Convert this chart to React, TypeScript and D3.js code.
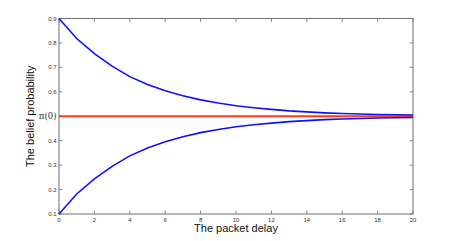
import React, { useEffect, useRef } from 'react';
import * as d3 from 'd3';

// packet delay (x) and belief probabilities
const delays = [0, 1, 2, 3, 4, 5, 6, 7, 8, 9, 10, 11, 12, 13, 14, 15, 16, 17, 18, 19, 20];
const upperBelief = [0.9, 0.818, 0.756, 0.705, 0.662, 0.63, 0.604, 0.584, 0.567, 0.554, 0.543, 0.535, 0.528, 0.522, 0.518, 0.514, 0.511, 0.509, 0.507, 0.506, 0.505];
const lowerBelief = [0.1, 0.182, 0.244, 0.295, 0.338, 0.37, 0.396, 0.416, 0.433, 0.446, 0.457, 0.465, 0.472, 0.478, 0.482, 0.486, 0.489, 0.491, 0.493, 0.494, 0.495];
const priorBelief = 0.5;
const xTicks = [0, 2, 4, 6, 8, 10, 12, 14, 16, 18, 20];
const yTicks = [0.1, 0.2, 0.3, 0.4, 0.5, 0.6, 0.7, 0.8, 0.9];
const yTickLabels = ['0.1', '0.2', '0.3', '0.4', 'π(0)', '0.6', '0.7', '0.8', '0.9'];

const App: React.FC = () => {
  const svgRef = useRef<SVGSVGElement>(null);

  useEffect(() => {
    if (!svgRef.current) return;
    const svg = d3.select(svgRef.current);
    svg.selectAll('*').remove();

    const left = 59, right = 413, top = 18.5, bottom = 214;
    const x = d3.scaleLinear().domain([0, 20]).range([left, right]);
    const y = d3.scaleLinear().domain([0.1, 0.9]).range([bottom, top]);
    const axisColor = '#6e6e6e';

    // ticks (inside, on all four sides)
    const tickLen = 3.5;
    const g = svg.append('g');
    xTicks.forEach(t => {
      g.append('line').attr('x1', x(t)).attr('x2', x(t)).attr('y1', bottom).attr('y2', bottom - tickLen)
        .attr('stroke', axisColor).attr('stroke-width', 0.8);
      g.append('line').attr('x1', x(t)).attr('x2', x(t)).attr('y1', top).attr('y2', top + tickLen)
        .attr('stroke', axisColor).attr('stroke-width', 0.8);
      g.append('text').attr('x', x(t)).attr('y', bottom + 7.5)
        .attr('text-anchor', 'middle')
        .style('font-family', 'Liberation Sans, Arial, sans-serif').style('font-size', '6px').style('fill', '#333')
        .text(String(t));
    });
    yTicks.forEach((t, i) => {
      g.append('line').attr('x1', left).attr('x2', left + tickLen).attr('y1', y(t)).attr('y2', y(t))
        .attr('stroke', axisColor).attr('stroke-width', 0.8);
      g.append('line').attr('x1', right).attr('x2', right - tickLen).attr('y1', y(t)).attr('y2', y(t))
        .attr('stroke', axisColor).attr('stroke-width', 0.8);
      const isPi = yTickLabels[i].startsWith('π');
      g.append('text').attr('x', left - 2.5).attr('y', y(t)).attr('dy', '0.35em')
        .attr('text-anchor', 'end')
        .style('font-family', isPi ? 'DejaVu Serif, serif' : 'Liberation Sans, Arial, sans-serif')
        .style('font-size', isPi ? '8.5px' : '6px').style('fill', '#333')
        .text(yTickLabels[i]);
    });

    // frame
    svg.append('rect').attr('x', left).attr('y', top).attr('width', right - left).attr('height', bottom - top)
      .attr('fill', 'none').attr('stroke', axisColor).attr('stroke-width', 1);

    // prior line
    svg.append('line').attr('x1', x(0)).attr('x2', x(20)).attr('y1', y(priorBelief)).attr('y2', y(priorBelief))
      .attr('stroke', '#ff3b1a').attr('stroke-width', 2);

    const line = d3.line<number>().x((_, i) => x(delays[i])).y(d => y(d));
    [upperBelief, lowerBelief].forEach(series => {
      svg.append('path').attr('d', line(series) || '').attr('fill', 'none')
        .attr('stroke', '#1010ff').attr('stroke-width', 1.6);
    });

    // axis labels
    svg.append('text').attr('x', (left + right) / 2).attr('y', 232)
      .attr('text-anchor', 'middle')
      .style('font-family', 'Liberation Sans, Arial, sans-serif').style('font-size', '11px').style('fill', '#111')
      .text('The packet delay');
    svg.append('text').attr('transform', `translate(34,${(top + bottom) / 2}) rotate(-90)`)
      .attr('text-anchor', 'middle')
      .style('font-family', 'Liberation Sans, Arial, sans-serif').style('font-size', '11px').style('fill', '#111')
      .text('The belief probability');
  }, []);

  return (
    <div style={{ position: 'fixed', left: 0, top: 0, background: '#fff' }}>
      <svg ref={svgRef} width={457} height={241} style={{ display: 'block' }} />
    </div>
  );
};

export default App;
